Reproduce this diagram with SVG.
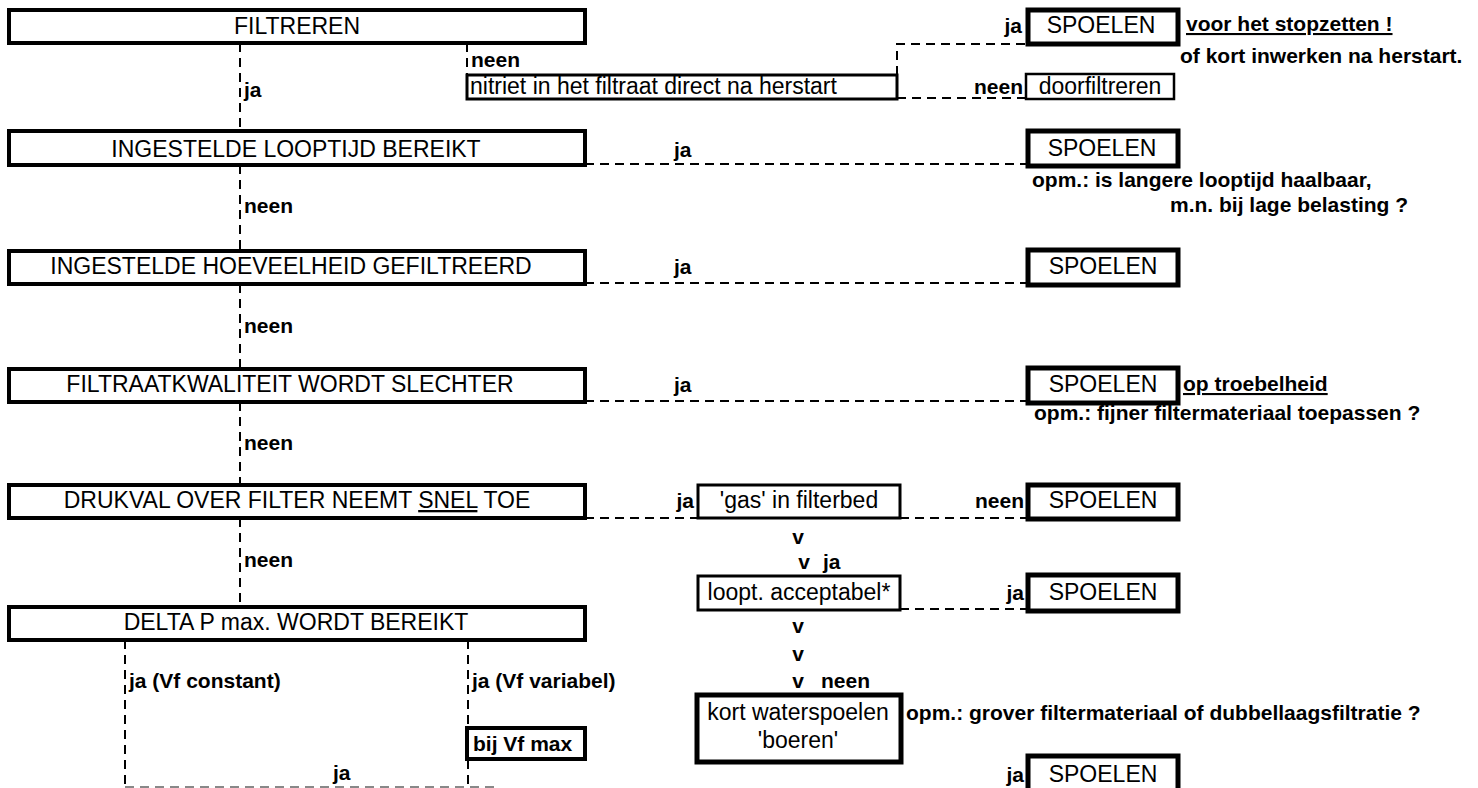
<svg xmlns="http://www.w3.org/2000/svg" width="1478" height="788" viewBox="0 0 1478 788">
<style>
  text { font-family: "Liberation Sans", Arial, sans-serif; fill: #000; }
  .bt { font-size: 23px; }
  .lb { font-size: 21px; font-weight: bold; }
  .c { text-anchor: middle; }
  .e { text-anchor: end; }
  .u { text-decoration: underline; }
  .box { fill: #fff; stroke: #000; stroke-width: 4; }
  .sp { fill: #fff; stroke: #000; stroke-width: 5; }
  .mid { fill: #fff; stroke: #000; stroke-width: 3; }
  .thin { fill: #fff; stroke: #000; stroke-width: 2.5; }
  .dash { fill: none; stroke: #000; stroke-width: 2; stroke-dasharray: 9 6; }
  .faint { fill: none; stroke: #888; stroke-width: 2; stroke-dasharray: 9 6; }
</style>
<rect width="1478" height="788" fill="#fff"/>

<g id="connectors">
  <line class="dash" x1="240" y1="43" x2="240" y2="131"/>
  <line class="dash" x1="240" y1="165" x2="240" y2="251"/>
  <line class="dash" x1="240" y1="284" x2="240" y2="369"/>
  <line class="dash" x1="240" y1="402" x2="240" y2="485"/>
  <line class="dash" x1="240" y1="518" x2="240" y2="607"/>
  <line class="dash" x1="467" y1="43" x2="467" y2="75"/>
  <polyline class="dash" points="897,75 897,44 1028,44"/>
  <line class="dash" x1="897" y1="98" x2="1026" y2="98"/>
  <line class="dash" x1="585" y1="164" x2="1028" y2="164"/>
  <line class="dash" x1="585" y1="283" x2="1028" y2="283"/>
  <line class="dash" x1="585" y1="401" x2="1028" y2="401"/>
  <line class="dash" x1="585" y1="518" x2="698" y2="518"/>
  <line class="dash" x1="900" y1="518" x2="1028" y2="518"/>
  <line class="dash" x1="900" y1="609" x2="1028" y2="609"/>
  <line class="dash" x1="125" y1="640" x2="125" y2="788"/>
  <line class="dash" x1="468" y1="640" x2="468" y2="788"/>
  <line class="faint" x1="125" y1="787" x2="500" y2="787"/>
</g>

<g id="n-filtreren">
  <rect class="box" x="9" y="10" width="576" height="33"/>
  <text class="bt c" x="297" y="34">FILTREREN</text>
</g>
<g id="n-nitriet">
  <rect class="mid" x="467" y="75" width="430" height="24"/>
  <text class="bt" x="470" y="94">nitriet in het filtraat direct na herstart</text>
</g>
<g id="n-spoelen1">
  <rect class="sp" x="1028" y="10" width="150" height="34"/>
  <text class="bt c" x="1101" y="33">SPOELEN</text>
</g>
<g id="n-doorfiltreren">
  <rect class="thin" x="1026" y="74" width="148" height="25"/>
  <text class="bt c" x="1100" y="94">doorfiltreren</text>
</g>
<g id="n-looptijd">
  <rect class="box" x="9" y="131" width="576" height="34"/>
  <text class="bt c" x="296" y="157">INGESTELDE LOOPTIJD BEREIKT</text>
</g>
<g id="n-spoelen2">
  <rect class="sp" x="1028" y="131" width="150" height="35"/>
  <text class="bt c" x="1102" y="156">SPOELEN</text>
</g>
<g id="n-hoeveelheid">
  <rect class="box" x="9" y="251" width="576" height="33"/>
  <text class="bt c" x="291" y="274">INGESTELDE HOEVEELHEID GEFILTREERD</text>
</g>
<g id="n-spoelen3">
  <rect class="sp" x="1028" y="250" width="150" height="35"/>
  <text class="bt c" x="1103" y="274">SPOELEN</text>
</g>
<g id="n-filtraat">
  <rect class="box" x="9" y="369" width="576" height="33"/>
  <text class="bt c" x="290" y="392">FILTRAATKWALITEIT WORDT SLECHTER</text>
</g>
<g id="n-spoelen4">
  <rect class="sp" x="1028" y="368" width="150" height="35"/>
  <text class="bt c" x="1103" y="392">SPOELEN</text>
</g>
<g id="n-drukval">
  <rect class="box" x="9" y="485" width="576" height="33"/>
  <text class="bt c" x="297" y="508">DRUKVAL OVER FILTER NEEMT <tspan class="u">SNEL</tspan> TOE</text>
</g>
<g id="n-gas">
  <rect class="mid" x="698" y="485" width="202" height="33"/>
  <text class="bt c" x="799" y="508">'gas' in filterbed</text>
</g>
<g id="n-spoelen5">
  <rect class="sp" x="1028" y="485" width="150" height="34"/>
  <text class="bt c" x="1103" y="508">SPOELEN</text>
</g>
<g id="n-loopt">
  <rect class="mid" x="698" y="576" width="202" height="34"/>
  <text class="bt c" x="799" y="600">loopt. acceptabel*</text>
</g>
<g id="n-spoelen6">
  <rect class="sp" x="1028" y="575" width="150" height="36"/>
  <text class="bt c" x="1103" y="600">SPOELEN</text>
</g>
<g id="n-deltap">
  <rect class="box" x="9" y="607" width="576" height="33"/>
  <text class="bt c" x="296" y="630">DELTA P max. WORDT BEREIKT</text>
</g>
<g id="n-vfmax">
  <rect class="box" x="467" y="728" width="118" height="31"/>
  <text class="lb" x="473" y="751">bij Vf max</text>
</g>
<g id="n-kort">
  <rect class="sp" x="697" y="695" width="204" height="67"/>
  <text class="bt c" x="798" y="720">kort waterspoelen</text>
  <text class="bt c" x="798" y="748">'boeren'</text>
</g>
<g id="n-spoelen7">
  <rect class="sp" x="1028" y="756" width="150" height="40"/>
  <text class="bt c" x="1103" y="782">SPOELEN</text>
</g>

<g id="labels">
  <text class="lb" x="244" y="97">ja</text>
  <text class="lb" x="471" y="67">neen</text>
  <text class="lb e" x="1022" y="33">ja</text>
  <text class="lb u" x="1186" y="31">voor het stopzetten !</text>
  <text class="lb" x="1180" y="63">of kort inwerken na herstart.</text>
  <text class="lb e" x="1023" y="94">neen</text>
  <text class="lb" x="674" y="157">ja</text>
  <text class="lb" x="1032" y="187">opm.: is langere looptijd haalbaar,</text>
  <text class="lb" x="1170" y="212">m.n. bij lage belasting ?</text>
  <text class="lb" x="244" y="213">neen</text>
  <text class="lb" x="674" y="274">ja</text>
  <text class="lb" x="244" y="333">neen</text>
  <text class="lb" x="674" y="392">ja</text>
  <text class="lb u" x="1183" y="391">op troebelheid</text>
  <text class="lb" x="1034" y="420">opm.: fijner filtermateriaal toepassen ?</text>
  <text class="lb" x="244" y="450">neen</text>
  <text class="lb e" x="694" y="508">ja</text>
  <text class="lb e" x="1024" y="508">neen</text>
  <text class="lb c" x="798" y="544">v</text>
  <text class="lb c" x="804" y="569">v</text>
  <text class="lb" x="823" y="569">ja</text>
  <text class="lb e" x="1024" y="600">ja</text>
  <text class="lb c" x="798" y="633">v</text>
  <text class="lb c" x="798" y="661">v</text>
  <text class="lb c" x="798" y="688">v</text>
  <text class="lb" x="821" y="688">neen</text>
  <text class="lb" x="244" y="567">neen</text>
  <text class="lb" x="129" y="688">ja (Vf constant)</text>
  <text class="lb" x="472" y="688">ja (Vf variabel)</text>
  <text class="lb" x="906" y="720">opm.: grover filtermateriaal of dubbellaagsfiltratie ?</text>
  <text class="lb" x="333" y="780">ja</text>
  <text class="lb e" x="1024" y="782">ja</text>
</g>
</svg>
